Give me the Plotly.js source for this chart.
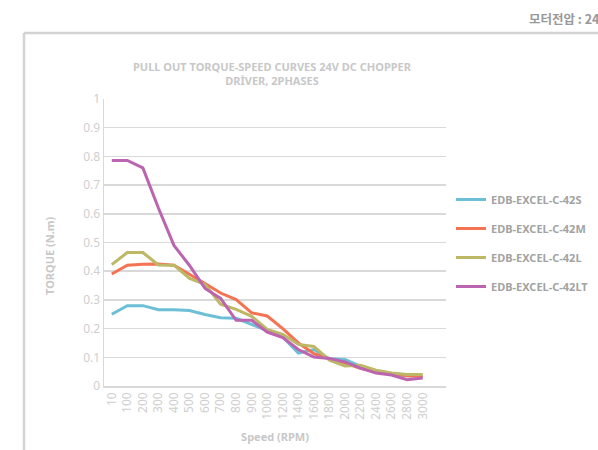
<!DOCTYPE html>
<html>
<head>
<meta charset="utf-8">
<script src="https://cdn.plot.ly/plotly-3.0.1.min.js"></script>
<style>
html,body{margin:0;padding:0;background:#fff;}
#chart{width:598px;height:450px;}
</style>
</head>
<body>
<div id="chart"></div>
<script>
const speeds = ['10','100','200','300','400','500','600','700','800','900','1000','1200','1400','1600','1800','2000','2200','2400','2600','2800','3000'];
const torque42S  = [0.25,0.28,0.28,0.266,0.266,0.263,0.249,0.238,0.236,0.214,0.192,0.171,0.115,0.127,0.095,0.092,0.068,0.052,0.043,0.036,0.034];
const torque42M  = [0.39,0.421,0.424,0.425,0.421,0.39,0.357,0.324,0.301,0.255,0.244,0.2,0.15,0.113,0.095,0.08,0.062,0.05,0.042,0.036,0.034];
const torque42L  = [0.423,0.465,0.465,0.422,0.421,0.375,0.354,0.285,0.267,0.243,0.197,0.18,0.145,0.138,0.09,0.07,0.072,0.055,0.045,0.04,0.04];
const torque42LT = [0.786,0.786,0.76,0.62,0.49,0.42,0.34,0.305,0.229,0.229,0.188,0.169,0.127,0.101,0.096,0.084,0.062,0.045,0.038,0.022,0.028];
const seriesNames = ['EDB-EXCEL-C-42S','EDB-EXCEL-C-42M','EDB-EXCEL-C-42L','EDB-EXCEL-C-42LT'];
const yTicks = [0,0.1,0.2,0.3,0.4,0.5,0.6,0.7,0.8,0.9,1];
const yTickText = ['0','0.1','0.2','0.3','0.4','0.5','0.6','0.7','0.8','0.9','1'];

const colors = ['#6cbfd6','#f47352','#bcb865','#bb64b0'];
const allY = [torque42S, torque42M, torque42L, torque42LT];
const FONT = 'Noto Sans, Open Sans, sans-serif';

const traces = allY.map((ys, i) => ({
  x: speeds, y: ys, type: 'scatter', mode: 'lines',
  name: seriesNames[i], legendgroup: 'g' + i,
  line: {color: colors[i], width: 3}
}));

// pixel helpers for layout (plot area: x 104..446, y 99..386)
const L = 104, R = 446, T = 99, B = 386;
const px = p => (p - L) / (R - L);
const py = p => (B - p) / (B - T);

const layout = {
  width: 598, height: 450,
  margin: {l: L, r: 598 - R, t: T, b: 450 - B, autoexpand: false},
  paper_bgcolor: '#ffffff', plot_bgcolor: '#ffffff',
  font: {family: FONT, color: '#c8c8c8'},
  showlegend: true,
  title: {
    text: '<b>PULL OUT TORQUE-SPEED CURVES 24V DC CHOPPER<br>DRİVER, 2PHASES</b>',
    font: {size: 11, color: '#c8c8c8', family: FONT},
    x: px(272), xanchor: 'center', xref: 'paper',
    y: 1 - 71 / 450, yanchor: 'top'
  },
  xaxis: {
    type: 'category',
    range: [-0.5, 21.5],
    tickangle: -90,
    tickfont: {size: 12, color: '#cfcfcf', family: FONT},
    showgrid: false,
    showline: true, linecolor: '#d9d9d9', linewidth: 1.5,
    ticks: '', zeroline: false,
    title: {text: '<b>Speed (RPM)</b>', font: {size: 11, color: '#c8c8c8', family: FONT}, standoff: 14}
  },
  yaxis: {
    range: [0, 1],
    tickvals: yTicks, ticktext: yTickText,
    tickfont: {size: 12, color: '#cfcfcf', family: FONT},
    showgrid: true, gridcolor: '#d9d9d9', gridwidth: 1.5,
    showline: true, linecolor: '#d9d9d9', linewidth: 1.5,
    zeroline: false, ticks: '', ticklen: 0
  },
  legend: {
    x: px(451), y: py(185), xanchor: 'left', yanchor: 'top',
    font: {size: 11, color: '#a3a3a3', family: FONT, weight: 'bold'},
    tracegroupgap: 10, itemwidth: 30,
    bgcolor: 'rgba(0,0,0,0)'
  },
  shapes: [
    {type: 'line', xref: 'paper', yref: 'paper', x0: px(24), x1: px(600), y0: py(33), y1: py(33), line: {color: '#d3d3d3', width: 2.5}},
    {type: 'line', xref: 'paper', yref: 'paper', x0: px(24), x1: px(24), y0: py(33), y1: py(452), line: {color: '#d3d3d3', width: 2.5}}
  ],
  annotations: [
    {text: '<b>모터전압 : 24</b>', xref: 'paper', yref: 'paper', x: px(527), y: py(18), xanchor: 'left', yanchor: 'middle', showarrow: false,
     font: {size: 12.5, color: '#999999', family: 'Noto Sans CJK KR, Noto Sans, sans-serif'}},
    {text: '<b>TORQUE (N.m)</b>', xref: 'paper', yref: 'paper', x: px(50), y: py(256), xanchor: 'center', yanchor: 'middle', showarrow: false,
     textangle: -90, font: {size: 11, color: '#c8c8c8', family: FONT}}
  ]
};

Plotly.newPlot('chart', traces, layout, {staticPlot: true, displayModeBar: false});
</script>
</body>
</html>
